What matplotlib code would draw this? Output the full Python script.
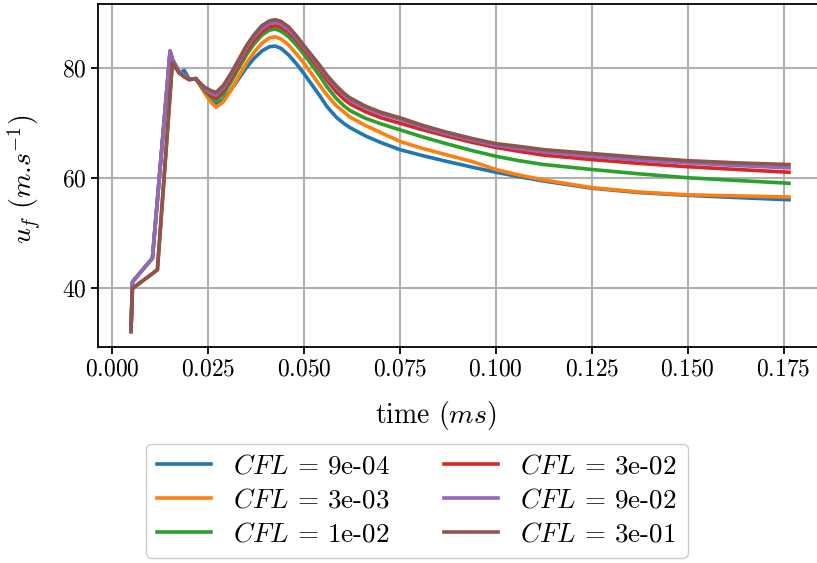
import matplotlib
matplotlib.use("Agg")
import matplotlib.pyplot as plt

# === 資料 ===
time_ms = [0.0049, 0.0053, 0.0105, 0.0118, 0.0151, 0.0157, 0.0175, 0.0188, 0.0201, 0.0218,
           0.0240, 0.0258, 0.0271, 0.0290, 0.0310, 0.0330, 0.0350, 0.0370, 0.0390, 0.0410,
           0.0425, 0.0440, 0.0460, 0.0480, 0.0500, 0.0540, 0.0560, 0.0584, 0.0605, 0.0620,
           0.0660, 0.0700, 0.0750, 0.0810, 0.0870, 0.0940, 0.1000, 0.1060, 0.1125, 0.1250,
           0.1375, 0.1500, 0.1630, 0.1764]

uf_9e04 = [32.1, 41.1, 45.4, 56.0, 83.0, 81.5, 79.0, 79.5, 77.9, 78.0,
           75.7, 74.0, 73.3, 74.2, 76.0, 78.0, 80.0, 81.7, 83.0, 83.8,
           83.9, 83.5, 82.3, 80.7, 78.9, 75.0, 72.9, 71.0, 69.8, 69.1,
           67.6, 66.4, 65.1, 64.0, 63.0, 61.9, 61.0, 60.2, 59.4, 58.1,
           57.3, 56.8, 56.4, 56.0]
uf_3e03 = [32.1, 41.1, 45.4, 56.0, 83.0, 81.5, 79.1, 78.6, 77.9, 78.0,
           75.5, 73.7, 72.8, 73.8, 75.9, 78.4, 80.8, 82.8, 84.4, 85.4,
           85.6, 85.2, 84.1, 82.5, 80.8, 76.9, 75.0, 73.1, 71.9, 71.0,
           69.5, 68.2, 66.6, 65.3, 64.2, 62.9, 61.5, 60.5, 59.6, 58.2,
           57.4, 56.9, 56.7, 56.5]
uf_1e02 = [32.1, 41.1, 45.4, 56.0, 83.0, 81.5, 79.1, 78.6, 77.9, 78.0,
           75.9, 74.6, 74.0, 75.2, 77.4, 79.9, 82.3, 84.3, 85.9, 86.8,
           87.0, 86.6, 85.6, 84.1, 82.4, 78.6, 76.5, 74.4, 73.0, 72.2,
           70.8, 69.8, 68.7, 67.4, 66.2, 64.9, 63.9, 63.1, 62.4, 61.5,
           60.7, 60.0, 59.5, 59.0]
uf_3e02 = [32.1, 39.9, 42.6, 43.3, 75.1, 80.9, 79.0, 78.4, 77.8, 78.0,
           76.1, 74.9, 74.5, 75.8, 78.1, 80.6, 83.0, 85.0, 86.5, 87.4,
           87.6, 87.3, 86.4, 85.0, 83.3, 79.7, 77.7, 75.6, 74.2, 73.4,
           72.0, 70.9, 69.9, 68.7, 67.6, 66.4, 65.5, 64.8, 64.1, 63.3,
           62.6, 62.0, 61.5, 61.0]
uf_9e02 = [32.1, 41.1, 45.4, 56.0, 83.0, 81.5, 79.2, 78.6, 77.9, 78.0,
           76.2, 75.3, 75.0, 76.3, 78.6, 81.1, 83.6, 85.6, 87.1, 88.0,
           88.2, 87.9, 86.9, 85.4, 83.7, 80.2, 78.3, 76.4, 75.0, 74.1,
           72.7, 71.6, 70.6, 69.2, 68.0, 66.8, 65.9, 65.3, 64.7, 63.9,
           63.2, 62.7, 62.2, 61.8]
uf_3e01 = [32.1, 39.9, 42.6, 43.3, 75.1, 80.9, 79.0, 78.3, 77.8, 78.0,
           76.5, 75.8, 75.5, 76.8, 79.0, 81.5, 84.0, 86.0, 87.6, 88.5,
           88.7, 88.4, 87.4, 85.8, 84.0, 80.5, 78.6, 76.7, 75.3, 74.5,
           73.0, 71.9, 70.9, 69.5, 68.3, 67.1, 66.2, 65.7, 65.1, 64.4,
           63.7, 63.1, 62.7, 62.4]

cfl_labels = ["9e-04", "3e-03", "1e-02", "3e-02", "9e-02", "3e-01"]
series = [uf_9e04, uf_3e03, uf_1e02, uf_3e02, uf_9e02, uf_3e01]

plt.rcParams["font.family"] = "serif"
plt.rcParams["font.serif"] = ["cmr10"]
plt.rcParams["mathtext.fontset"] = "cm"
plt.rcParams["axes.formatter.use_mathtext"] = True
plt.rcParams["font.size"] = 17

fig = plt.figure(figsize=(8.17, 5.63), dpi=100)
ax = fig.add_axes([0.1200, 0.3837, 0.886, 0.609])

for vals, lab in zip(series, cfl_labels):
    ax.plot(time_ms, vals, lw=2.6, label=r"$CFL$ = " + lab)

ax.grid(True, color="#b0b0b0", lw=1.5)
ax.set_axisbelow(True)
for sp in ax.spines.values():
    sp.set_linewidth(1.3)
ax.spines["right"].set_visible(False)
ax.tick_params(width=1.3, length=5)
ax.set_yticks([40, 60, 80])

ax.set_xlabel(r"time $(ms)$", fontsize=20)
ax.xaxis.set_label_coords(0.467, -0.152)
ax.set_ylabel(r"$u_f\ (m$.$s^{-1})$", fontsize=20)
ax.yaxis.set_label_coords(-0.076, 0.49)

fig.legend(loc="upper center", bbox_to_anchor=(417 / 817, 1 - 430 / 563),
           ncol=2, fontsize=19.5, handlelength=2.0, labelspacing=0.38,
           framealpha=1.0, edgecolor="#cccccc")

fig.savefig("out.png", dpi=100)
